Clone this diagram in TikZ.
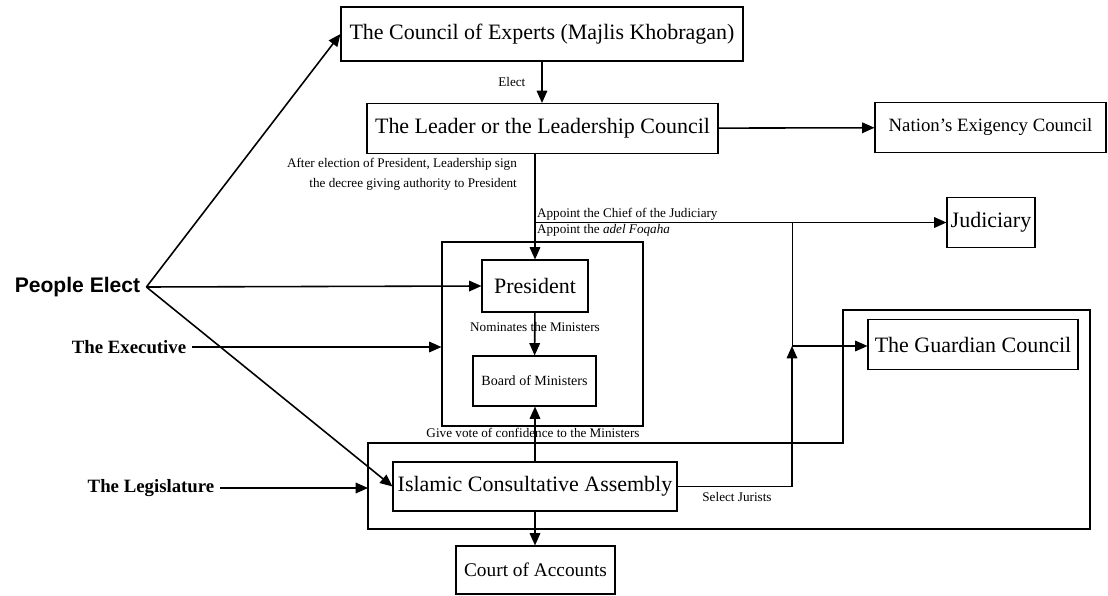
\documentclass[tikz,border=0pt]{standalone}
\usepackage{fontspec}
\setmainfont{Liberation Serif}
\newfontfamily\sansbold{Liberation Sans}
\usetikzlibrary{arrows.meta, positioning, calc}

\begin{document}
\begin{tikzpicture}[
  box/.style={draw, semithick, minimum height=1cm, inner sep=2pt, font=\fontsize{12.5}{14}\selectfont},
  note/.style={font=\fontsize{7.5}{11.3}\selectfont, inner sep=1pt},
  arr/.style={-{Triangle[length=7pt,width=6pt]}, line width=0.9pt},
  side/.style={font=\fontsize{10.7}{12}\selectfont\bfseries}
]
  \useasboundingbox (0,0) rectangle (22.16,-11.92);

  % Leadership
  \node[box, minimum width=8.04cm, minimum height=1.08cm] (experts) at (10.84,-0.68) {The Council of Experts (Majlis Khobragan)};
  \node[box, minimum width=7.02cm] (leader) at (10.85,-2.57) {The Leader or the Leadership Council};
  \node[box, minimum width=4.62cm, font=\fontsize{10.7}{12}\selectfont] (exigency) at (19.81,-2.55) {Nation's Exigency Council};
  \node[box, minimum width=1.76cm] (judiciary) at (19.82,-4.45) {Judiciary};

  % Executive
  \node[draw, semithick, minimum width=4.02cm, minimum height=3.68cm] (execframe) at (10.85,-6.68) {};
  \node[box, minimum width=2.12cm, minimum height=1.04cm] (president) at (10.70,-5.72) {President};
  \node[box, minimum width=2.46cm, font=\fontsize{8}{9}\selectfont] (board) at (10.69,-7.62) {Board of Ministers};

  % Legislature
  \draw[semithick] (7.36,-8.86) coordinate (legnw) -- (16.86,-8.86) -- (16.86,-6.20) -- (21.80,-6.20) -- (21.80,-10.58) -- (7.36,-10.58) -- cycle;
  \node[box, minimum width=4.2cm] (guardian) at (19.46,-6.89) {The Guardian Council};
  \node[box, minimum width=5.68cm, minimum height=0.98cm] (assembly) at (10.70,-9.73) {Islamic Consultative Assembly};
  \node[box, minimum width=3.18cm, minimum height=0.96cm, font=\fontsize{11}{13}\selectfont] (court) at (10.71,-11.40) {Court of Accounts};

  % Left side
  \node[font=\sansbold\fontsize{12}{14}\selectfont\bfseries] (people) at (1.55,-5.74) {People Elect};
  \node[side] (executive) at (2.58,-6.94) {The Executive};
  \node[side] (legislature) at (3.02,-9.76) {The Legislature};

  % Connections
  \draw[arr] (experts.south) -- node[note, left=8pt] {Elect} (experts.south |- leader.north);
  \draw[arr] (leader) -- (exigency);
  \draw[arr] (president.north |- leader.south) -- (president.north);
  \node[note, align=right, anchor=east] at (10.38,-3.48) {After election of President, Leadership sign\\the decree giving authority to President};
  \coordinate (appoint) at (president.north |- judiciary.west);
  \draw[arr] (appoint) -- (judiciary.west);
  \node[note, anchor=south west] at (appoint) {Appoint the Chief of the Judiciary};
  \node[note, anchor=north west] at (appoint) {Appoint the \textit{adel Foqaha}};

  \draw[arr] (people.east) -- (experts.west);
  \draw[arr] (people.east) -- (president.west);
  \draw[arr] (people.east) -- (assembly.west);
  \draw[arr] (executive) -- (executive -| execframe.west);
  \draw[arr] (legislature) -- (legislature -| legnw);

  \draw[arr] (president) -- (board);
  \node[note] at (10.7,-6.54) {Nominates the Ministers};
  \draw[arr] (assembly.north) -- (assembly.north |- board.south);
  \node[note] at (10.66,-8.66) {Give vote of confidence to the Ministers};
  \draw[arr] (assembly.south) -- (assembly.south |- court.north);

  \coordinate (jurists) at (15.84,-6.92);
  \draw[arr] (assembly.east) -| (jurists);
  \draw (jurists) -- (jurists |- appoint);
  \draw[arr] (jurists) -- (jurists -| guardian.west);
  \node[note] at (14.74,-9.94) {Select Jurists};
\end{tikzpicture}
\end{document}
